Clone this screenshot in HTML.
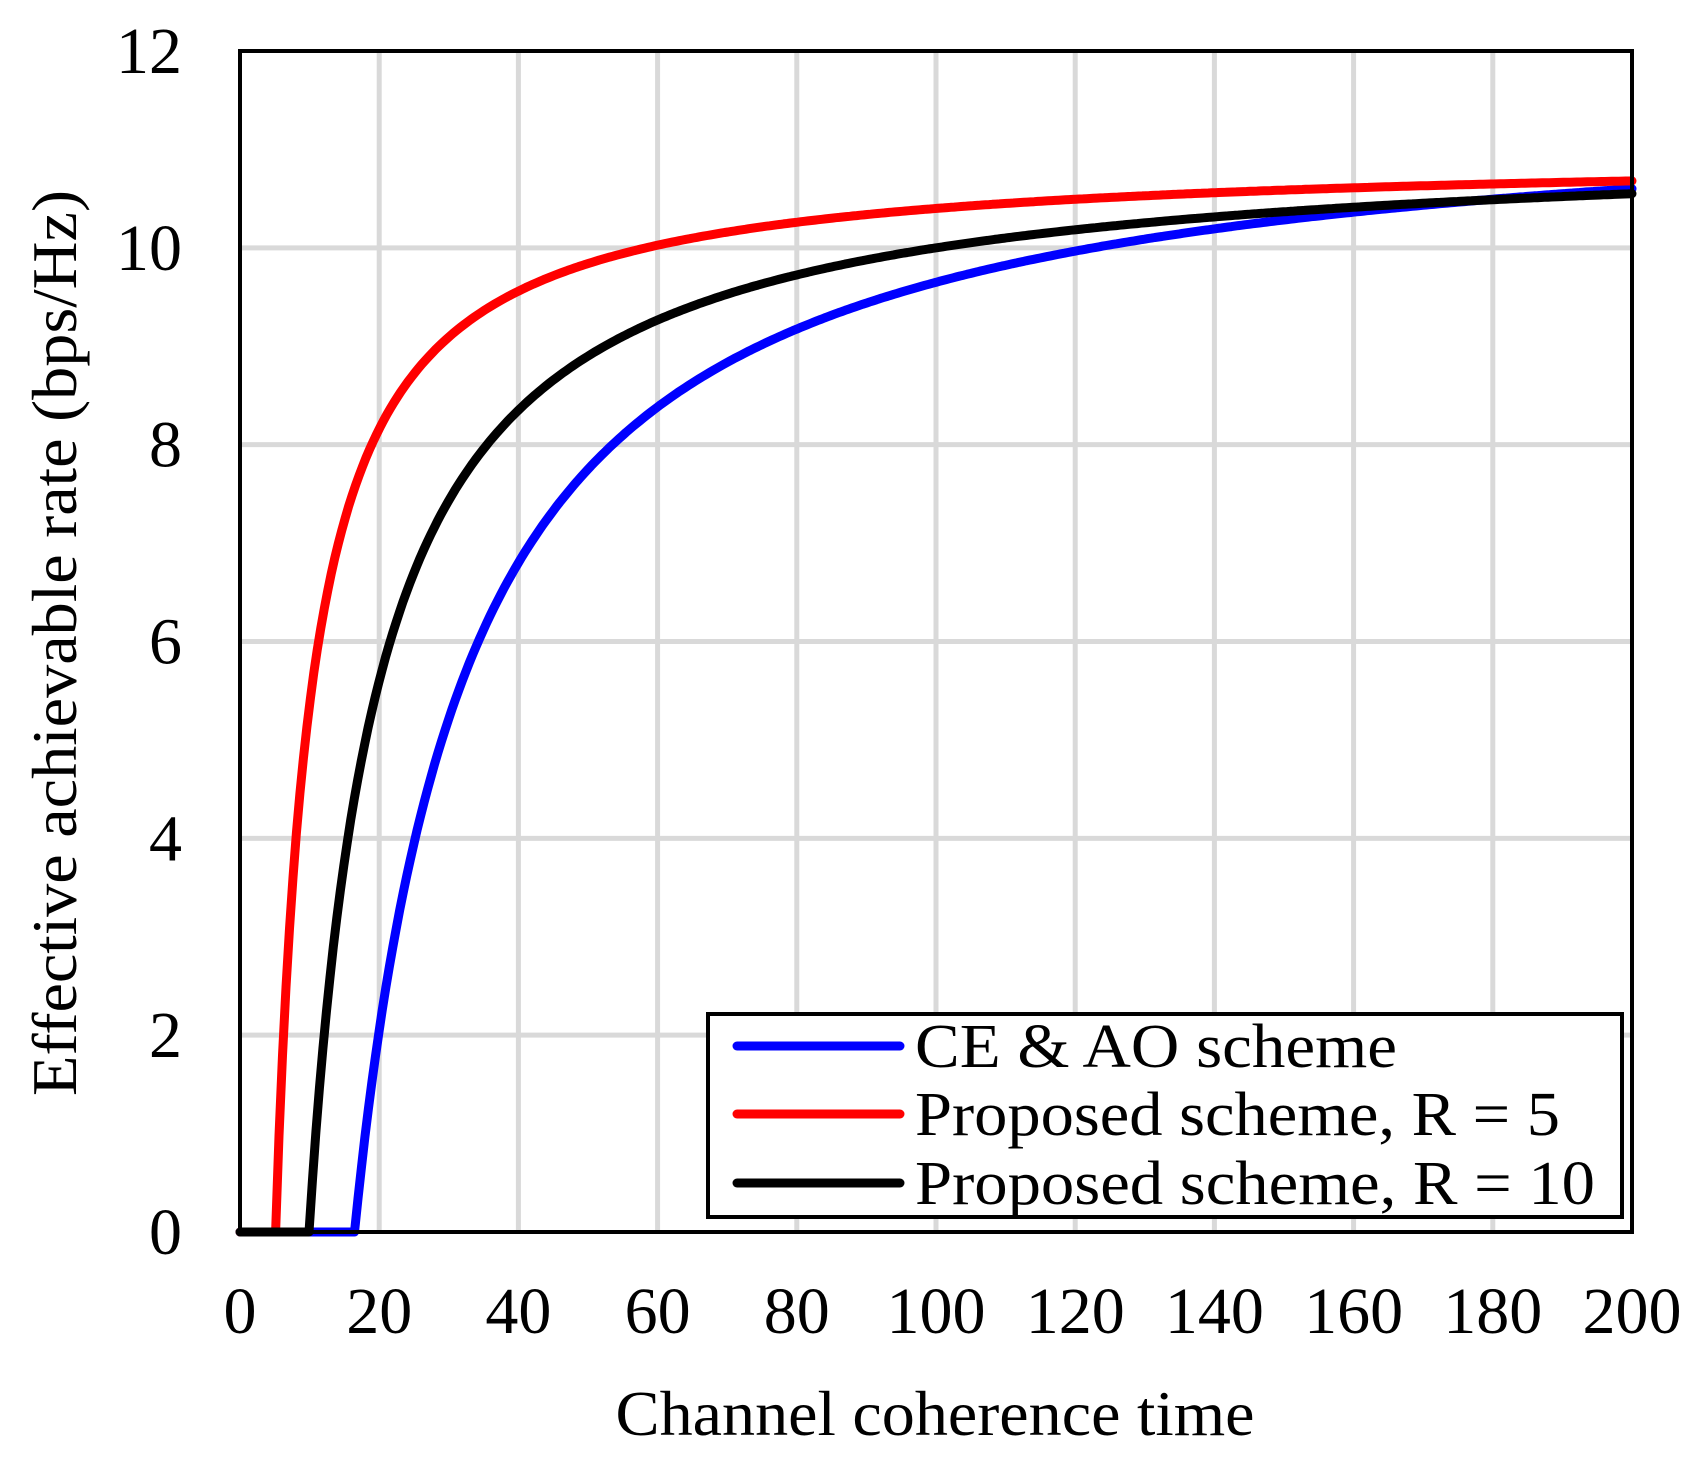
<!DOCTYPE html>
<html><head><meta charset="utf-8"><style>
html,body{margin:0;padding:0;background:#fff;}
svg{display:block;}
text{font-family:"Liberation Serif",serif;fill:#000;}
</style></head><body>
<svg id="s" width="1699" height="1462" viewBox="0 0 1699 1462" xmlns="http://www.w3.org/2000/svg">
<g id="grid" stroke="#d9d9d9" stroke-width="5"></g>
<g id="curves" fill="none" stroke-width="9" stroke-linejoin="round" stroke-linecap="round"></g>
<rect x="240" y="51" width="1392" height="1181" fill="none" stroke="#000" stroke-width="4"/>
<g id="ticks" font-size="66"></g>
<text x="935" y="1435" font-size="64" text-anchor="middle" textLength="639" lengthAdjust="spacingAndGlyphs">Channel coherence time</text>
<text transform="translate(76,643) rotate(-90)" font-size="64" text-anchor="middle" textLength="906" lengthAdjust="spacingAndGlyphs">Effective achievable rate (bps/Hz)</text>
<rect x="708" y="1014" width="914" height="203" fill="#fff" stroke="#000" stroke-width="4"/>
<line x1="737" y1="1046" x2="900" y2="1046" stroke="#0000ff" stroke-width="9" stroke-linecap="round"/>
<line x1="737" y1="1114" x2="900" y2="1114" stroke="#ff0000" stroke-width="9" stroke-linecap="round"/>
<line x1="737" y1="1183" x2="900" y2="1183" stroke="#000" stroke-width="9" stroke-linecap="round"/>
<text x="915" y="1067" font-size="62" textLength="482" lengthAdjust="spacingAndGlyphs">CE &amp; AO scheme</text>
<text x="915" y="1135" font-size="62" textLength="645" lengthAdjust="spacingAndGlyphs">Proposed scheme, R = 5</text>
<text x="915" y="1204" font-size="62" textLength="680" lengthAdjust="spacingAndGlyphs">Proposed scheme, R = 10</text>
</svg>
<script>
var NS="http://www.w3.org/2000/svg";
function X(v){return 240+v*1392/200;}
function Y(v){return 1232-v*1181/12;}
var g=document.getElementById('grid'),t=document.getElementById('ticks'),c=document.getElementById('curves');
function el(p,n,a){var e=document.createElementNS(NS,n);for(var k in a)e.setAttribute(k,a[k]);p.appendChild(e);return e;}
for(var i=1;i<10;i++){el(g,'line',{x1:X(i*20),x2:X(i*20),y1:51,y2:1232});}
for(var j=1;j<6;j++){el(g,'line',{x1:240,x2:1632,y1:Y(j*2),y2:Y(j*2)});}
for(var i=0;i<=10;i++){var e=el(t,'text',{x:X(i*20),y:1333,'text-anchor':'middle'});e.textContent=i*20;}
for(var j=0;j<=6;j++){var e=el(t,'text',{x:182,y:Y(j*2)+22,'text-anchor':'end'});e.textContent=j*2;}
function curve(C,K,col){var d="M"+X(0)+","+Y(0);var t0=K/C;d+=" L"+X(t0)+","+Y(0);
for(var x=t0;x<=200;x+=0.5){var v=Math.max(0,C-K/x);d+=" L"+X(x).toFixed(1)+","+Y(v).toFixed(1);}
d+=" L"+X(200)+","+Y(C-K/200);el(c,'path',{d:d,stroke:col});}
curve(11.55,190,'#0000ff');
curve(10.96,56,'#ff0000');
curve(11.1,110,'#000000');
</script>
</body></html>
